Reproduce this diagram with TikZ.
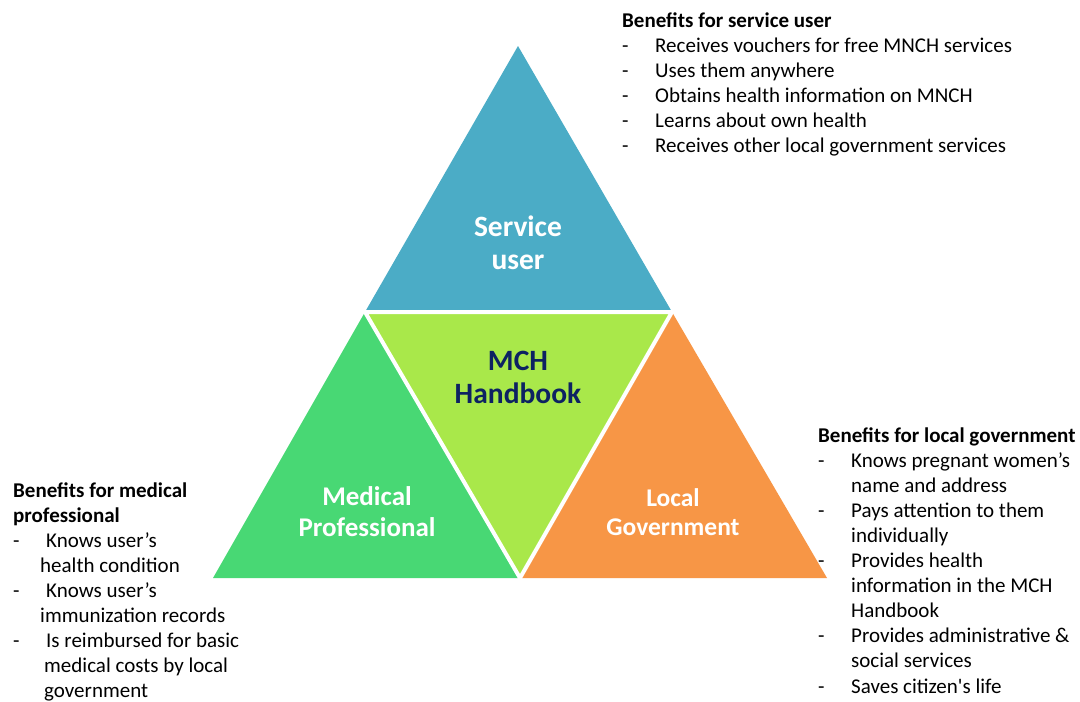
\documentclass[tikz,border=0pt]{standalone}
\usepackage{fontspec}
\usepackage{array}
\newfontfamily\bodyfont{Carlito}
\definecolor{userBlue}{HTML}{4BACC6}
\definecolor{bookLime}{HTML}{A9E84A}
\definecolor{medGreen}{HTML}{48D874}
\definecolor{govOrange}{HTML}{F79646}
\definecolor{bookNavy}{HTML}{0D2262}
\definecolor{color0}{HTML}{000000}

\begin{document}
\begin{tikzpicture}
\tikzset{x=1pt,y=-1pt,
  partlabel/.style={color=white, align=center, font=\bodyfont\bfseries\fontsize{29.5}{33}\selectfont},
  benefits/.style={color=color0, anchor=base west, inner sep=0pt, font=\bodyfont\fontsize{21}{25.1}\selectfont}}
\useasboundingbox (0,0) rectangle (1080,702);
\fill[white] (0,0) rectangle (1080,702);
% corners of the big triangle and the middles of its sides
\coordinate (left) at (213,578);
\coordinate (right) at (827,578);
\coordinate (top) at (518,46);
\coordinate (midL) at (365,312);
\coordinate (midR) at (672,312);
\coordinate (midB) at (520,578);
\fill[userBlue] (top) -- (midR) -- (midL) -- cycle;
\fill[medGreen] (midL) -- (midB) -- (left) -- cycle;
\fill[govOrange] (midR) -- (right) -- (midB) -- cycle;
\fill[bookLime] (midL) -- (midR) -- (midB) -- cycle;
\draw[line width=4pt, color=white, line join=miter] (midL) -- (midR) -- (midB) -- cycle;
% names in the four parts
\node[partlabel] (user) at (518,243) {Service\\user};
\node[partlabel, color=bookNavy] (book) at (518,377) {MCH\\Handbook};
\node[partlabel, font=\bodyfont\bfseries\fontsize{27}{31}\selectfont] (medical) at (367,512) {Medical\\Professional};
\node[partlabel, font=\bodyfont\bfseries\fontsize{25.5}{29}\selectfont] (government) at (673,512) {Local\\Government};
% lists of benefits
\node[benefits] (userlist) at (622,27) {\begin{tabular}[t]{@{}p{33pt}@{}l@{}}
\multicolumn{2}{@{}l@{}}{\bfseries Benefits for service user}\\
- & Receives vouchers for free MNCH services\\
- & Uses them anywhere\\
- & Obtains health information on MNCH\\
- & Learns about own health\\
- & Receives other local government services
\end{tabular}};
\node[benefits] (medlist) at (13,497) {\begin{tabular}[t]{@{}p{27pt}@{}l@{}}
\multicolumn{2}{@{}l@{}}{\bfseries Benefits for medical}\\
\multicolumn{2}{@{}l@{}}{\bfseries professional}\\
- & \hspace*{6pt}Knows user’s\\
  & health condition\\
- & \hspace*{6pt}Knows user’s\\
  & immunization records\\
- & \hspace*{6pt}Is reimbursed for basic\\
  & \hspace*{4pt}medical costs by local\\
  & \hspace*{4pt}government
\end{tabular}};
\node[benefits] (govlist) at (818,442) {\begin{tabular}[t]{@{}p{33pt}@{}l@{}}
\multicolumn{2}{@{}l@{}}{\bfseries Benefits for local government}\\
- & Knows pregnant women’s\\
  & name and address\\
- & Pays attention to them\\
  & individually\\
- & Provides health\\
  & information in the MCH\\
  & Handbook\\
- & Provides administrative \&\\
  & social services\\
- & Saves citizen's life
\end{tabular}};
\end{tikzpicture}
\end{document}
